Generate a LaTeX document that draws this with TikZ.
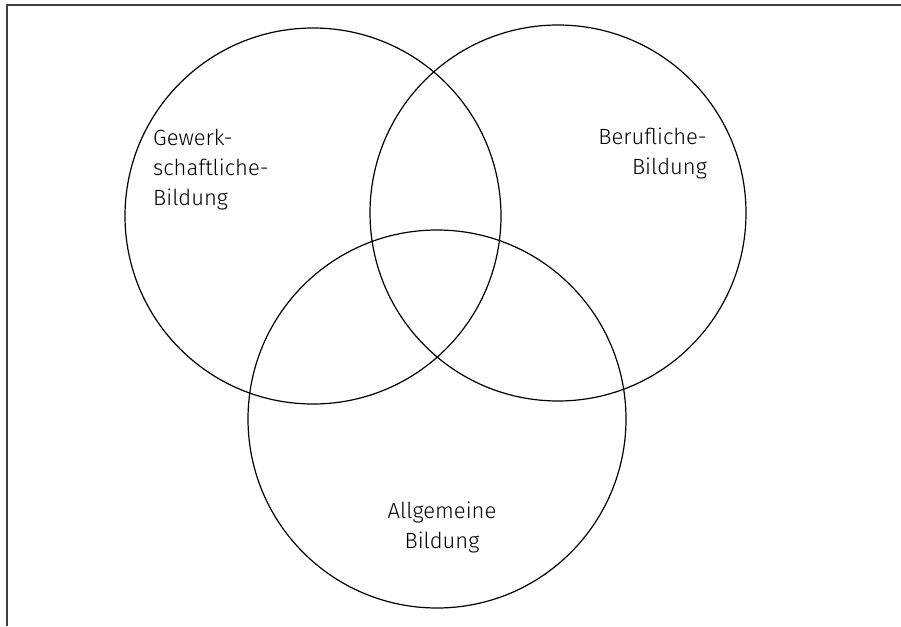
\documentclass[tikz,border=0pt]{standalone}
\usepackage{fontspec}
\setmainfont{Fira Sans Light}
\begin{document}
\begin{tikzpicture}[x=1pt,y=-1pt,
  ring/.style={draw=black,line width=1.2pt},
  lbl/.style={inner sep=0pt,font=\fontsize{22}{30}\selectfont},
  frame/.style={draw=black!75,line width=1.6pt}]
\useasboundingbox (0,0) rectangle (901,626);
\coordinate (tl) at (7,5);
\coordinate (tr) at (901,5);
\coordinate (bl) at (7,626);
\draw[frame] (tr) -- (tl) -- (bl);
\node[ring,circle,minimum size=376pt,inner sep=0pt] (gw) at (313,216) {};
\node[ring,circle,minimum size=376pt,inner sep=0pt] (bb) at (558,213) {};
\node[ring,circle,minimum size=378pt,inner sep=0pt] (ab) at (437,419) {};
\node[lbl,align=left,anchor=north west] (tgw) at (153,129) {Gewerk-\\schaftliche-\\Bildung};
\node[lbl,align=right,anchor=north east] (tbb) at (707,128) {Berufliche-\\Bildung};
\node[lbl,align=center,anchor=north] (tab) at (442,502) {Allgemeine\\Bildung};
\end{tikzpicture}
\end{document}
